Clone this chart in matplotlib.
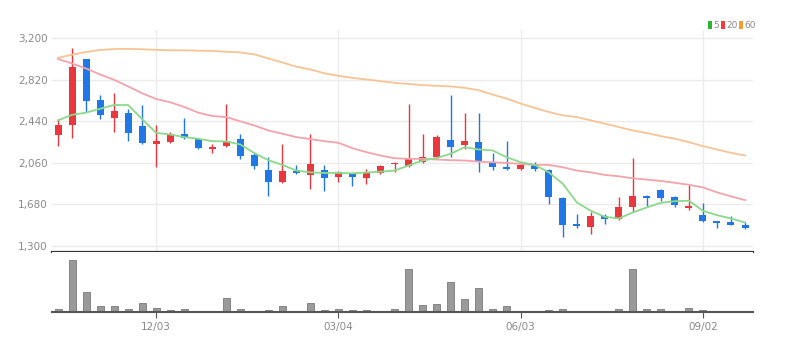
import matplotlib.pyplot as plt
from matplotlib.patches import Rectangle
import numpy as np

plt.rcParams['font.family'] = ['Liberation Sans Narrow', 'DejaVu Sans']

# weekly candles (red = up, blue = down)
opens = [2318, 2410, 3007, 2633, 2471, 2517, 2397, 2235, 2250, 2327,
         2275, 2189, 2213, 2281, 2128, 1999, 1882, 1990, 1950, 1996,
         1928, 1959, 1919, 1968, 2048, 2030, 2072, 2118, 2272, 2220,
         2250, 2066, 2020, 2005, 2045, 1996, 1738, 1499, 1478, 1570,
         1545, 1653, 1760, 1812, 1745, 1643, 1585, 1527, 1515, 1490]
closes = [2410, 2940, 2624, 2501, 2532, 2333, 2244, 2265, 2327, 2290,
          2198, 2204, 2265, 2121, 2036, 1882, 1990, 1965, 2051, 1919,
          1974, 1928, 1968, 2036, 2057, 2103, 2118, 2296, 2204, 2265,
          2072, 2020, 2005, 2045, 2005, 1751, 1493, 1484, 1576, 1545,
          1653, 1760, 1738, 1738, 1674, 1668, 1530, 1509, 1496, 1469]
highs = [2459, 3114, 3007, 2679, 2701, 2557, 2587, 2410, 2340, 2471,
         2275, 2229, 2603, 2327, 2158, 2112, 2235, 2042, 2327, 2042,
         1983, 1959, 2005, 2040, 2072, 2603, 2321, 2311, 2679, 2520,
         2520, 2149, 2265, 2066, 2066, 2005, 1751, 1591, 1607, 1591,
         1751, 2103, 1766, 1821, 1760, 1858, 1693, 1527, 1570, 1521]
lows = [2213, 2287, 2526, 2465, 2342, 2256, 2229, 2020, 2240, 2281,
        2189, 2149, 2204, 2097, 2005, 1760, 1876, 1959, 1821, 1806,
        1889, 1852, 1867, 1960, 1974, 2020, 2060, 2103, 2112, 2189,
        1974, 1999, 1999, 1999, 1990, 1683, 1386, 1463, 1408, 1499,
        1539, 1607, 1668, 1714, 1653, 1631, 1521, 1460, 1490, 1454]

ma5 = [2449, 2500, 2520, 2555, 2590, 2590, 2460, 2335, 2320, 2296,
       2281, 2259, 2256, 2229, 2150, 2085, 2042, 1990, 1974, 1968,
       1968, 1965, 1972, 1980, 1990, 2036, 2082, 2105, 2143, 2204,
       2183, 2174, 2112, 2066, 2042, 1974, 1870, 1699, 1622, 1567,
       1552, 1607, 1653, 1695, 1710, 1714, 1622, 1582, 1552, 1515]
ma20 = [3010, 2970, 2924, 2869, 2820, 2760, 2697, 2645, 2615, 2572,
        2520, 2489, 2480, 2440, 2403, 2357, 2327, 2296, 2278, 2259,
        2244, 2195, 2158, 2128, 2103, 2097, 2097, 2091, 2085, 2082,
        2072, 2066, 2060, 2051, 2042, 2042, 2020, 1990, 1974, 1950,
        1938, 1919, 1907, 1895, 1878, 1860, 1836, 1791, 1754, 1720]
ma60 = [3022, 3050, 3075, 3093, 3102, 3103, 3100, 3094, 3090, 3090,
        3087, 3084, 3077, 3071, 3053, 3016, 2979, 2940, 2915, 2880,
        2857, 2838, 2823, 2808, 2792, 2783, 2771, 2766, 2760, 2747,
        2725, 2685, 2648, 2603, 2563, 2526, 2495, 2480, 2449, 2419,
        2388, 2357, 2333, 2305, 2281, 2250, 2213, 2183, 2152, 2128]

volume = [8, 157, 60, 17, 17, 9, 28, 13, 7, 9,
          4, 4, 43, 9, 4, 7, 17, 4, 28, 7,
          9, 7, 7, 4, 9, 128, 22, 25, 90, 38,
          72, 10, 19, 1, 3, 7, 9, 3, 3, 3,
          9, 128, 9, 9, 4, 13, 7, 3, 3, 3]

price_ticks = [1300, 1680, 2060, 2440, 2820, 3200]
date_idx = [7, 20, 33, 46]
date_labels = ['12/03', '03/04', '06/03', '09/02']

up_col = '#e8383d'
down_col = '#1f78e6'
grid_col = '#ececec'
label_col = '#8a8a8a'

fig = plt.figure(figsize=(7.86, 3.5), dpi=100)
ax = fig.add_axes([52 / 786, 1 - 252 / 350, 701 / 786, 222 / 350])
axv = fig.add_axes([52 / 786, 1 - 312 / 350, 701 / 786, 60 / 350], sharex=ax)

x = np.arange(len(opens))
o = np.array(opens)
c = np.array(closes)
colors = [up_col if cc >= oo else down_col for oo, cc in zip(o, c)]

# grid
for t in price_ticks:
    ax.axhline(t, color=grid_col, lw=1, zorder=0)
for i in date_idx:
    ax.axvline(i, color=grid_col, lw=1, zorder=0)

# candles
ax.vlines(x, lows, highs, colors=colors, lw=1, zorder=2)
body_bot = np.minimum(o, c)
body_h = np.maximum(np.abs(c - o), 10)
ax.bar(x, body_h, bottom=body_bot, width=0.5, color=colors, zorder=3)

ax.plot(x, ma60, color='#f8c495', lw=1.3, zorder=4)
ax.plot(x, ma20, color='#f5a3ab', lw=1.3, zorder=4)
ax.plot(x, ma5, color='#8bd98b', lw=1.3, zorder=4)

ax.set_xlim(-0.43, 49.57)
ax.set_ylim(1245, 3276)
ax.set_yticks(price_ticks)
ax.set_yticklabels([f'{t:,}' for t in price_ticks], color=label_col, fontsize=7.5)
ax.tick_params(axis='y', length=0, pad=3)
ax.tick_params(axis='x', length=0, labelbottom=False)
for s in ['top', 'right', 'left']:
    ax.spines[s].set_visible(False)
ax.spines['bottom'].set_color('#333333')
ax.spines['bottom'].set_linewidth(1.6)

# volume
axv.bar(x, volume, width=0.5, color='#9a9a9a', edgecolor='#7a7a7a', lw=0.6)
axv.set_ylim(0, 180)
axv.set_yticks([])
for s in ['top', 'right', 'left']:
    axv.spines[s].set_visible(False)
axv.spines['bottom'].set_color('#555555')
axv.spines['bottom'].set_linewidth(1.5)
axv.set_xticks(date_idx)
axv.set_xticklabels(date_labels, color=label_col, fontsize=7.5)
axv.tick_params(axis='x', length=4, color='#555555', pad=3)

# legend: small coloured blocks with gray labels
items = [('5', '#2db52d', 708), ('20', '#f03c3c', 721), ('60', '#f0a030', 739)]
for lab, col, px in items:
    fig.add_artist(Rectangle((px / 786, 1 - 29 / 350), 3.5 / 786, 8 / 350,
                             transform=fig.transFigure, color=col, lw=0))
    fig.text((px + 5) / 786, 1 - 25 / 350, lab, color=label_col, fontsize=6.5,
             va='center', ha='left')

fig.savefig('out.png', dpi=100)
